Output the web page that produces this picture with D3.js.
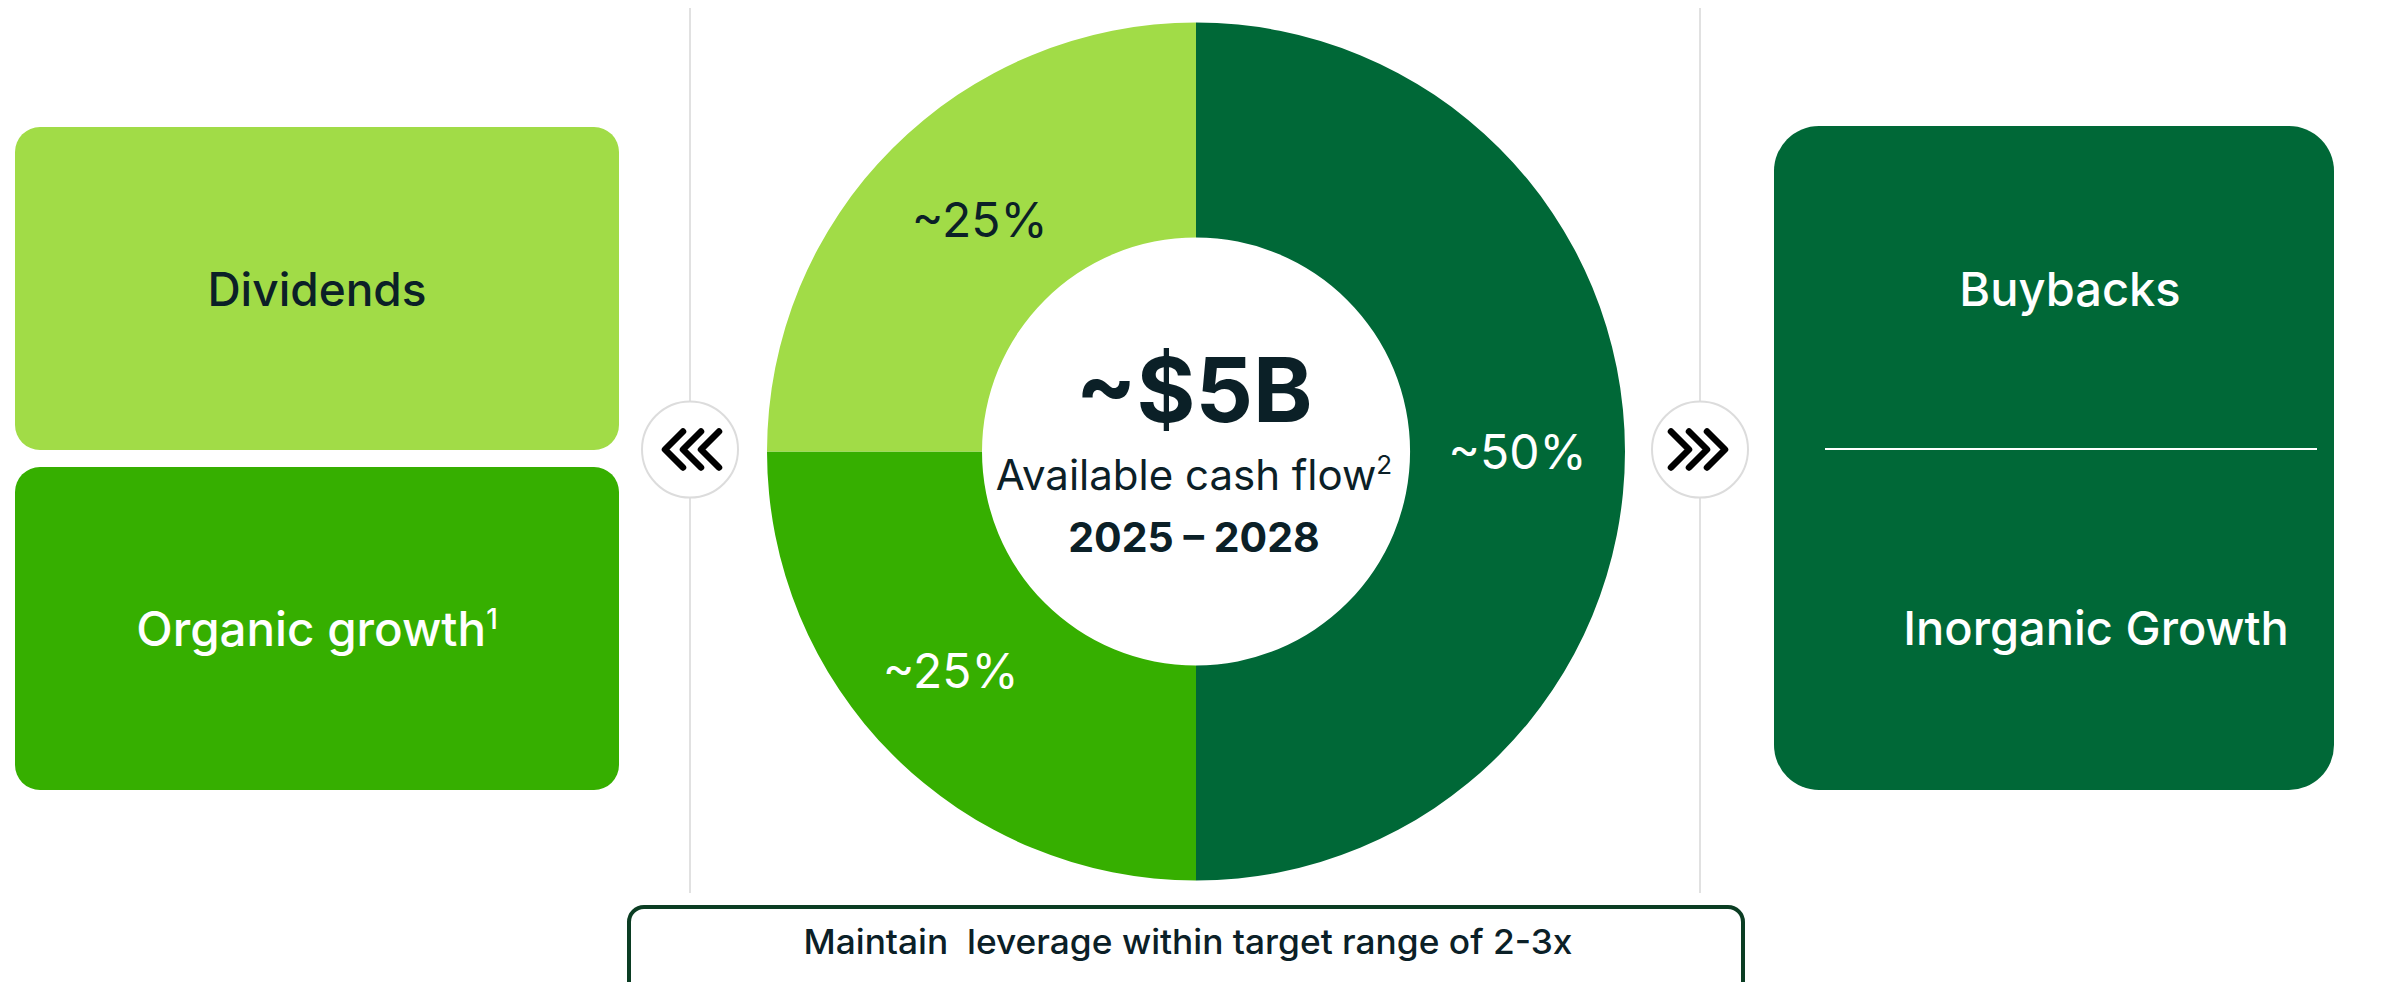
<!DOCTYPE html>
<html>
<head>
<meta charset="utf-8">
<script src="https://cdn.jsdelivr.net/npm/d3@7"></script>
<style>
  html, body { margin: 0; padding: 0; background: #ffffff; }
  svg { display: block; }
  text { font-family: Inter, "Noto Sans", sans-serif; }
</style>
</head>
<body>
<svg id="chart" width="2395" height="982"></svg>
<script>
// ---- data ----
const sliceCategories = ["Buybacks & Inorganic Growth", "Organic growth", "Dividends"];
const sliceValues = [50, 25, 25];
const sliceLabels = ["~50%", "~25%", "~25%"];
const sliceColors = ["#006837", "#36af00", "#a1dc47"];
const sliceLabelColors = ["#ffffff", "#ffffff", "#0b2027"];

const leftBoxLabels = ["Dividends", "Organic growth"];
const leftBoxSup = ["", "1"];
const leftBoxColors = ["#a1dc47", "#36af00"];
const leftBoxTextColors = ["#0b2027", "#ffffff"];

const rightBoxLabels = ["Buybacks", "Inorganic Growth"];

const centerTitle = "~$5B";
const centerSubtitle = "Available cash flow";
const centerSubtitleSup = "2";
const centerPeriod = "2025 \u2013 2028";
const footerText = "Maintain  leverage within target range of 2-3x";

// ---- layout ----
const svg = d3.select("#chart");
const dark = "#0b2027";

const cx = 1196, cy = 451.5, rOuter = 429, rInner = 214;
// small label nudges (layout only)
const labelNudge = [[0, 0], [-18, -8], [11, -4]];

// left boxes
const leftY = d3.scaleBand().domain(leftBoxLabels).range([127, 790]).paddingInner(0.05);
const leftX0 = 15, leftX1 = 619;
const gLeft = svg.append("g");
leftBoxLabels.forEach((lab, i) => {
  const y0 = leftY(lab), h = leftY.bandwidth();
  gLeft.append("rect")
    .attr("x", leftX0).attr("y", y0)
    .attr("width", leftX1 - leftX0).attr("height", h)
    .attr("rx", 25).attr("ry", 25)
    .attr("fill", leftBoxColors[i]);
  const t = gLeft.append("text")
    .attr("x", (leftX0 + leftX1) / 2)
    .attr("y", y0 + h / 2 + 17)
    .attr("text-anchor", "middle")
    .attr("font-size", i === 0 ? 46 : 47.5)
    .attr("font-weight", 500)
    .attr("fill", leftBoxTextColors[i])
    .text(lab);
  if (leftBoxSup[i]) {
    t.append("tspan").attr("font-size", 28).attr("dy", -17).text(leftBoxSup[i]);
  }
});

// right box
const rb = { x0: 1774, x1: 2334, y0: 126, y1: 790 };
svg.append("rect")
  .attr("x", rb.x0).attr("y", rb.y0)
  .attr("width", rb.x1 - rb.x0).attr("height", rb.y1 - rb.y0)
  .attr("rx", 45).attr("ry", 45)
  .attr("fill", "#006837");
const rightY = d3.scalePoint().domain(rightBoxLabels).range([289, 628]);
const rightX = [2070, 2096];
rightBoxLabels.forEach((lab, i) => {
  svg.append("text")
    .attr("x", rightX[i]).attr("y", rightY(lab) + 17)
    .attr("text-anchor", "middle")
    .attr("font-size", 47).attr("font-weight", 500)
    .attr("fill", "#ffffff").text(lab);
});
svg.append("line")
  .attr("x1", 1825).attr("x2", 2317)
  .attr("y1", 449).attr("y2", 449)
  .attr("stroke", "#ffffff").attr("stroke-width", 2);

// vertical separators
[690, 1700].forEach(x => {
  svg.append("line")
    .attr("x1", x).attr("x2", x).attr("y1", 8).attr("y2", 893)
    .attr("stroke", "#e1e1e1").attr("stroke-width", 2);
});

// chevron badges
function badge(x, dir) {
  const g = svg.append("g").attr("transform", `translate(${x},${cy - 2})`);
  g.append("circle").attr("r", 48).attr("fill", "#ffffff")
    .attr("stroke", "#dcdcdc").attr("stroke-width", 2);
  [-18, 0, 18].forEach(off => {
    const tipX = dir < 0 ? -25 + (off + 18) : 25 - (18 - off);
    const p = d3.path();
    p.moveTo(tipX - dir * 18, -18);
    p.lineTo(tipX, 0);
    p.lineTo(tipX - dir * 18, 18);
    g.append("path").attr("d", p.toString())
      .attr("fill", "none").attr("stroke", "#000000")
      .attr("stroke-width", 6.5)
      .attr("stroke-linecap", "round").attr("stroke-linejoin", "round");
  });
}
badge(690, -1);
badge(1700, 1);

// donut
const pie = d3.pie().sort(null).value(d => d)(sliceValues);
const arc = d3.arc().innerRadius(rInner).outerRadius(rOuter);
const gD = svg.append("g").attr("transform", `translate(${cx},${cy})`);
gD.selectAll("path.slice").data(pie).join("path")
  .attr("class", "slice")
  .attr("d", arc)
  .attr("fill", (d, i) => sliceColors[i]);
gD.selectAll("text.lab").data(pie).join("text")
  .attr("class", "lab")
  .attr("x", (d, i) => arc.centroid(d)[0] + labelNudge[i][0])
  .attr("y", (d, i) => arc.centroid(d)[1] + 17 + labelNudge[i][1])
  .attr("text-anchor", "middle")
  .attr("font-size", 48).attr("font-weight", 400)
  .attr("fill", (d, i) => sliceLabelColors[i])
  .text((d, i) => sliceLabels[i]);

// center text
gD.append("text").attr("x", -2).attr("y", 422 - cy)
  .attr("text-anchor", "middle").attr("font-size", 90).attr("font-weight", 700)
  .attr("fill", dark).text(centerTitle);
const sub = gD.append("text").attr("x", -2).attr("y", 490 - cy)
  .attr("text-anchor", "middle").attr("font-size", 42).attr("font-weight", 400)
  .attr("fill", dark).text(centerSubtitle);
sub.append("tspan").attr("font-size", 26).attr("dy", -16).text(centerSubtitleSup);
gD.append("text").attr("x", -2).attr("y", 552 - cy)
  .attr("text-anchor", "middle").attr("font-size", 41).attr("font-weight", 700)
  .attr("fill", dark).text(centerPeriod);

// footer box
svg.append("rect")
  .attr("x", 629).attr("y", 907)
  .attr("width", 1743 - 629).attr("height", 120)
  .attr("rx", 15).attr("ry", 15)
  .attr("fill", "#ffffff").attr("stroke", "#0b3d23").attr("stroke-width", 4);
svg.append("text")
  .attr("x", 1188).attr("y", 954)
  .attr("text-anchor", "middle").attr("font-size", 34).attr("font-weight", 500)
  .attr("fill", dark)
  .style("white-space", "pre")
  .attr("textLength", 769).attr("lengthAdjust", "spacingAndGlyphs")
  .text(footerText);
</script>
</body>
</html>
